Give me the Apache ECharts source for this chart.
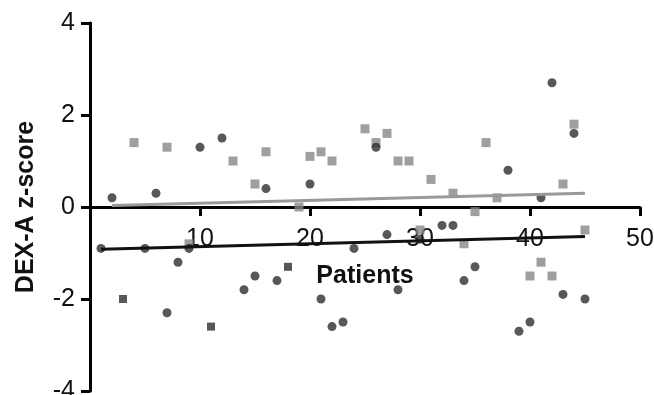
<!DOCTYPE html>
<html>
<head>
<meta charset="utf-8">
<script src="https://cdn.jsdelivr.net/npm/echarts@6/dist/echarts.min.js"></script>
<style>
html,body{margin:0;padding:0;background:#fff;}
#chart{width:654px;height:395px;}
</style>
</head>
<body>
<div id="chart"></div>
<script>
// Dark circles (patient number, DEX-A z-score)
var patientsDark = [1,2,5,6,7,8,9,10,12,14,15,16,17,20,21,22,23,24,26,27,28,30,32,33,34,35,38,39,40,41,42,43,44,45];
var zDark = [-0.9,0.2,-0.9,0.3,-2.3,-1.2,-0.9,1.3,1.5,-1.8,-1.5,0.4,-1.6,0.5,-2.0,-2.6,-2.5,-0.9,1.3,-0.6,-1.8,-0.7,-0.4,-0.4,-1.6,-1.3,0.8,-2.7,-2.5,0.2,2.7,-1.9,1.6,-2.0];
// Dark squares
var patientsDarkSq = [3,11,18];
var zDarkSq = [-2.0,-2.6,-1.3];
// Gray squares
var patientsGray = [4,7,9,13,15,16,19,20,21,22,25,26,27,28,29,30,31,33,34,35,36,37,40,41,42,43,44,45];
var zGray = [1.4,1.3,-0.8,1.0,0.5,1.2,0.0,1.1,1.2,1.0,1.7,1.4,1.6,1.0,1.0,-0.5,0.6,0.3,-0.8,-0.1,1.4,0.2,-1.5,-1.2,-1.5,0.5,1.8,-0.5];
// Regression lines
var fitDarkX = [1,45];
var fitDarkY = [-0.92,-0.64];
var fitGrayX = [2,45];
var fitGrayY = [0.03,0.30];
// Axis ticks
var xTicks = [10,20,30,40,50];
var yTicks = [-4,-2,0,2,4];

function zip(a,b){return a.map(function(v,i){return [v,b[i]];});}

var chart = echarts.init(document.getElementById('chart'), null, {renderer:'canvas'});
var FONT = '"Liberation Sans", Arial, sans-serif';
chart.setOption({
  animation:false,
  backgroundColor:'#ffffff',
  grid:{left:90,right:14,top:23,bottom:4,containLabel:false,outerBoundsMode:'none'},
  xAxis:{
    type:'value',min:0,max:50,interval:10,
    offset:-184,
    axisLine:{show:true,onZero:false,lineStyle:{color:'#000',width:3}},
    axisTick:{show:true,length:9,lineStyle:{color:'#000',width:3}},
    axisLabel:{margin:20,fontSize:25,color:'#111',fontFamily:FONT,
      formatter:function(v){return xTicks.indexOf(v)>=0?String(v):'';}},
    splitLine:{show:false},
    name:'Patients',nameLocation:'middle',nameGap:57,
    nameTextStyle:{fontSize:25,fontWeight:'bold',color:'#111',fontFamily:FONT}
  },
  yAxis:{
    type:'value',min:-4,max:4,interval:2,
    axisLine:{show:true,onZero:false,lineStyle:{color:'#000',width:3}},
    axisTick:{show:true,length:9,lineStyle:{color:'#000',width:3}},
    axisLabel:{margin:15,fontSize:25,color:'#111',fontFamily:FONT,
      formatter:function(v){return yTicks.indexOf(v)>=0?String(v):'';}},
    splitLine:{show:false},
    name:'DEX-A z-score',nameLocation:'middle',nameGap:51,nameRotate:90,
    nameTextStyle:{fontSize:25,fontWeight:'bold',color:'#111',fontFamily:FONT}
  },
  series:[
    {type:'scatter',data:zip(patientsGray,zGray),symbol:'rect',symbolSize:9,
      itemStyle:{color:'#878787'},z:2},
    {type:'scatter',data:zip(patientsDark,zDark),symbol:'circle',symbolSize:9,
      itemStyle:{color:'#2e2e2e'},z:3},
    {type:'scatter',data:zip(patientsDarkSq,zDarkSq),symbol:'rect',symbolSize:8,
      itemStyle:{color:'#2e2e2e'},z:3},
    {type:'line',data:zip(fitGrayX,fitGrayY),showSymbol:false,symbol:'none',
      lineStyle:{color:'#999',width:3},z:4},
    {type:'line',data:zip(fitDarkX,fitDarkY),showSymbol:false,symbol:'none',
      lineStyle:{color:'#111',width:3},z:4}
  ]
});
</script>
</body>
</html>
